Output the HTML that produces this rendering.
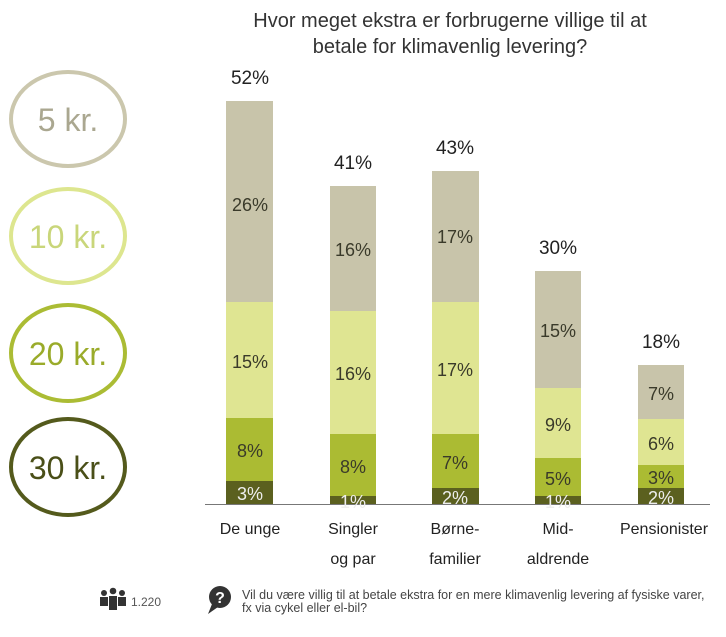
<!DOCTYPE html><html><head><style>
body{margin:0;width:726px;height:637px;background:#fff;font-family:"Liberation Sans",sans-serif;position:relative;overflow:hidden}
.a{position:absolute}
.l{position:absolute;color:#222;font-size:16px;text-align:center;transform:translateX(-50%);line-height:30px;white-space:nowrap}
</style></head><body>
<div class="a" style="left:200px;top:8px;width:500px;text-align:center;font-size:20px;color:#333;line-height:26px">Hvor meget ekstra er forbrugerne villige til at<br>betale for klimavenlig levering?</div>
<svg class="a" style="left:0;top:0" width="726" height="637">
<g fill="none" stroke-width="4">
<ellipse cx="68" cy="119" rx="57" ry="47" stroke="#cbc7ad"/>
<ellipse cx="68" cy="236" rx="57" ry="47" stroke="#dde68f"/>
<ellipse cx="68" cy="353" rx="57" ry="48" stroke="#abbc34"/>
<ellipse cx="68" cy="467" rx="57" ry="48" stroke="#545a1c"/>
</g>
<g font-size="32" text-anchor="middle" font-family="Liberation Sans">
<text x="68" y="131" fill="#aaa790">5 kr.</text>
<text x="68" y="248" fill="#c9d67a">10 kr.</text>
<text x="68" y="365" fill="#9aab2a">20 kr.</text>
<text x="68" y="479" fill="#4a4f18">30 kr.</text>
</g>
<g>
<rect x="226" y="101" width="47" height="201" fill="#c8c4aa"/><rect x="226" y="302" width="47" height="116" fill="#dfe592"/><rect x="226" y="418" width="47" height="63" fill="#abbb33"/><rect x="226" y="481" width="47" height="24" fill="#5b601f"/>
<rect x="330" y="186" width="46" height="125" fill="#c8c4aa"/><rect x="330" y="311" width="46" height="123" fill="#dfe592"/><rect x="330" y="434" width="46" height="62" fill="#abbb33"/><rect x="330" y="496" width="46" height="9" fill="#5b601f"/>
<rect x="432" y="171" width="47" height="131" fill="#c8c4aa"/><rect x="432" y="302" width="47" height="132" fill="#dfe592"/><rect x="432" y="434" width="47" height="54" fill="#abbb33"/><rect x="432" y="488" width="47" height="17" fill="#5b601f"/>
<rect x="535" y="271" width="46" height="117" fill="#c8c4aa"/><rect x="535" y="388" width="46" height="70" fill="#dfe592"/><rect x="535" y="458" width="46" height="38" fill="#abbb33"/><rect x="535" y="496" width="46" height="9" fill="#5b601f"/>
<rect x="638" y="365" width="46" height="54" fill="#c8c4aa"/><rect x="638" y="419" width="46" height="46" fill="#dfe592"/><rect x="638" y="465" width="46" height="23" fill="#abbb33"/><rect x="638" y="488" width="46" height="17" fill="#5b601f"/>
<line x1="205" y1="504.5" x2="710" y2="504.5" stroke="#777" stroke-width="1"/>
</g>
<g font-size="18" text-anchor="middle" font-family="Liberation Sans" fill="#3a3a2a">
<text x="250" y="84" fill="#222" font-size="19">52%</text><text x="353" y="169" fill="#222" font-size="19">41%</text><text x="455" y="154" fill="#222" font-size="19">43%</text><text x="558" y="254" fill="#222" font-size="19">30%</text><text x="661" y="348" fill="#222" font-size="19">18%</text>
<text x="250" y="211">26%</text><text x="250" y="368">15%</text><text x="250" y="457">8%</text><text x="250" y="500" fill="#eee">3%</text>
<text x="353" y="256">16%</text><text x="353" y="380">16%</text><text x="353" y="473">8%</text><text x="353" y="508" fill="#eee">1%</text>
<text x="455" y="243">17%</text><text x="455" y="376">17%</text><text x="455" y="469">7%</text><text x="455" y="504" fill="#eee">2%</text>
<text x="558" y="337">15%</text><text x="558" y="431">9%</text><text x="558" y="485">5%</text><text x="558" y="508" fill="#eee">1%</text>
<text x="661" y="400">7%</text><text x="661" y="450">6%</text><text x="661" y="484">3%</text><text x="661" y="504" fill="#eee">2%</text>
</g>
<g fill="#333"><circle cx="104" cy="593" r="3"/><circle cx="113" cy="591" r="3.3"/><circle cx="122" cy="593" r="3"/>
<rect x="100" y="597" width="8" height="9"/><rect x="109" y="596" width="8" height="14"/><rect x="118" y="597" width="8" height="9"/>
<circle cx="220" cy="597" r="11"/><path d="M212 604 L208 614 L218 607Z"/></g>
<text x="220" y="603" fill="#fff" font-size="16" font-weight="bold" text-anchor="middle" font-family="Liberation Sans">?</text>
<text x="131" y="606" fill="#555" font-size="12" font-family="Liberation Sans">1.220</text>
</svg>
<div class="l" style="left:250px;top:515px">De unge</div>
<div class="l" style="left:353px;top:515px">Singler<br>og par</div>
<div class="l" style="left:455px;top:515px">Børne-<br>familier</div>
<div class="l" style="left:558px;top:515px">Mid-<br>aldrende</div>
<div class="l" style="left:664px;top:515px">Pensionister</div>
<div class="a" style="left:242px;top:589px;font-size:12.5px;color:#444;line-height:13px;white-space:nowrap">Vil du være villig til at betale ekstra for en mere klimavenlig levering af fysiske varer,<br>fx via cykel eller el-bil?</div>
</body></html>
